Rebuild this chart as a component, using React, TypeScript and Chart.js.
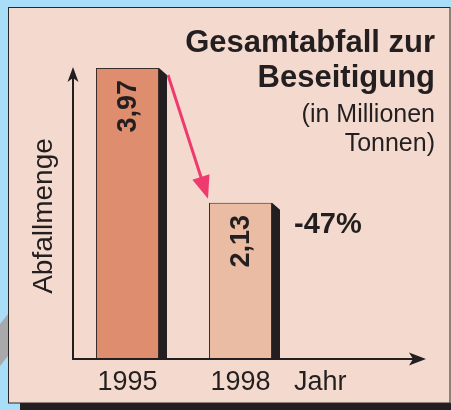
import React, { useEffect, useRef } from 'react';
import { Chart, registerables } from 'chart.js';

Chart.register(...registerables);

const categories = ['1995', '1998'];
const values = [3.97, 2.13];
const valueLabels = ['3,97', '2,13'];
const barColors = ['#de8e6e', '#e9bca3'];
const titleLines = ['Gesamtabfall zur', 'Beseitigung'];
const subtitleLines = ['(in Millionen', 'Tonnen)'];
const yAxisTitle = 'Abfallmenge';
const xAxisTitle = 'Jahr';
const changeLabel = '-47%';

const FONT = '"Liberation Sans", Arial, sans-serif';
const INK = '#231f20';

function arrowHead(ctx: CanvasRenderingContext2D, tx: number, ty: number, ux: number, uy: number, len: number, half: number, notch: number) {
  const bx = tx - ux * len;
  const by = ty - uy * len;
  const px = -uy;
  const py = ux;
  ctx.beginPath();
  ctx.moveTo(tx, ty);
  ctx.lineTo(bx + px * half, by + py * half);
  ctx.lineTo(tx - ux * (len - notch), ty - uy * (len - notch));
  ctx.lineTo(bx - px * half, by - py * half);
  ctx.closePath();
  ctx.fill();
}

const decor = {
  id: 'decor',
  beforeDraw(chart: any) {
    const ctx = chart.ctx as CanvasRenderingContext2D;
    ctx.save();
    ctx.fillStyle = '#a8def8';
    ctx.fillRect(0, 0, 451, 410);
    ctx.fillStyle = '#a9a9ac';
    ctx.beginPath();
    ctx.moveTo(0, 324);
    ctx.lineTo(8, 314);
    ctx.lineTo(8, 356);
    ctx.lineTo(0, 366);
    ctx.closePath();
    ctx.fill();
    ctx.fillStyle = INK;
    ctx.fillRect(20, 403, 431, 7);
    ctx.fillStyle = '#f4dace';
    ctx.fillRect(8, 7, 443, 396);
    ctx.strokeStyle = '#2a2626';
    ctx.lineWidth = 1;
    ctx.strokeRect(8.5, 7.5, 441.5, 395.5);
    ctx.restore();
  },
  beforeDatasetsDraw(chart: any) {
    const ctx = chart.ctx as CanvasRenderingContext2D;
    const meta = chart.getDatasetMeta(0);
    ctx.save();
    ctx.fillStyle = INK;
    meta.data.forEach((bar: any) => {
      const right = bar.x + bar.width / 2;
      ctx.beginPath();
      ctx.moveTo(right, bar.y);
      ctx.lineTo(right + 8, bar.y + 7);
      ctx.lineTo(right + 8, bar.base);
      ctx.lineTo(right, bar.base);
      ctx.closePath();
      ctx.fill();
    });
    ctx.restore();
  },
  afterDatasetsDraw(chart: any) {
    const ctx = chart.ctx as CanvasRenderingContext2D;
    const meta = chart.getDatasetMeta(0);
    const area = chart.chartArea;
    const y0 = chart.scales.y.getPixelForValue(0);
    const ox = area.left + 2;
    ctx.save();
    // axes
    ctx.strokeStyle = INK;
    ctx.fillStyle = INK;
    ctx.lineWidth = 2;
    ctx.beginPath();
    ctx.moveTo(ox, y0);
    ctx.lineTo(ox, 76);
    ctx.moveTo(ox - 1, y0);
    ctx.lineTo(414, y0);
    ctx.stroke();
    arrowHead(ctx, ox, 67, 0, -1, 15, 5.5, 4);
    arrowHead(ctx, 426, y0, 1, 0, 17, 6.5, 4);

    // pink arrow
    const b1 = meta.data[0];
    const b2 = meta.data[1];
    const sx = b1.x + b1.width / 2 + 9;
    const sy = b1.y + 7;
    const ex = b2.x - b2.width / 2 - 1;
    const ey = b2.y - 4;
    const dx = ex - sx;
    const dy = ey - sy;
    const L = Math.hypot(dx, dy);
    const ux = dx / L;
    const uy = dy / L;
    ctx.strokeStyle = '#ee3a6f';
    ctx.fillStyle = '#ee3a6f';
    ctx.lineWidth = 3;
    ctx.beginPath();
    ctx.moveTo(sx, sy);
    ctx.lineTo(ex - ux * 18, ey - uy * 18);
    ctx.stroke();
    arrowHead(ctx, ex, ey, ux, uy, 23, 9, 0);

    // value labels inside bars
    ctx.fillStyle = INK;
    ctx.font = `bold 27px ${FONT}`;
    ctx.textAlign = 'right';
    ctx.textBaseline = 'middle';
    meta.data.forEach((bar: any, i: number) => {
      ctx.save();
      ctx.translate(bar.x + 1, bar.y + 12);
      ctx.rotate(-Math.PI / 2);
      ctx.fillText(valueLabels[i], 0, 0);
      ctx.restore();
    });

    // category labels
    ctx.font = `27px ${FONT}`;
    ctx.textAlign = 'center';
    ctx.textBaseline = 'alphabetic';
    categories.forEach((c, i) => {
      ctx.fillText(c, chart.scales.x.getPixelForValue(i), 390);
    });
    ctx.textAlign = 'left';
    ctx.fillText(xAxisTitle, 294, 390);

    // y axis title
    ctx.save();
    ctx.font = `28px ${FONT}`;
    ctx.translate(52, 216);
    ctx.rotate(-Math.PI / 2);
    ctx.textAlign = 'center';
    ctx.fillText(yAxisTitle, 0, 0);
    ctx.restore();

    // change label
    ctx.font = `bold 29px ${FONT}`;
    ctx.textAlign = 'left';
    ctx.fillText(changeLabel, 294, 233);

    // title
    ctx.textAlign = 'right';
    ctx.font = `bold 31px ${FONT}`;
    ctx.fillText(titleLines[0], 435, 52);
    ctx.fillText(titleLines[1], 435, 87);
    ctx.font = `25px ${FONT}`;
    ctx.fillText(subtitleLines[0], 435, 122);
    ctx.fillText(subtitleLines[1], 435, 151);
    ctx.restore();
  },
};

export default function App() {
  const ref = useRef<HTMLCanvasElement | null>(null);
  useEffect(() => {
    if (!ref.current) return;
    const chart = new Chart(ref.current, {
      type: 'bar',
      data: {
        labels: categories,
        datasets: [
          {
            data: values,
            backgroundColor: barColors,
            borderColor: '#3a2c28',
            borderWidth: 1,
            categoryPercentage: 1,
            barPercentage: 0.5575,
          },
        ],
      },
      options: {
        animation: false,
        responsive: false,
        events: [],
        layout: { padding: { left: 71, right: 154, top: 68, bottom: 51 } },
        plugins: { legend: { display: false }, tooltip: { enabled: false }, title: { display: false } },
        scales: {
          x: { display: false, offset: true },
          y: { display: false, min: 0, max: 3.97 },
        },
      },
      plugins: [decor],
    });
    return () => chart.destroy();
  }, []);
  return (
    <div style={{ position: 'fixed', left: 0, top: 0, width: 451, height: 410 }}>
      <canvas ref={ref} width={451} height={410} style={{ display: 'block', width: 451, height: 410 }} />
    </div>
  );
}
